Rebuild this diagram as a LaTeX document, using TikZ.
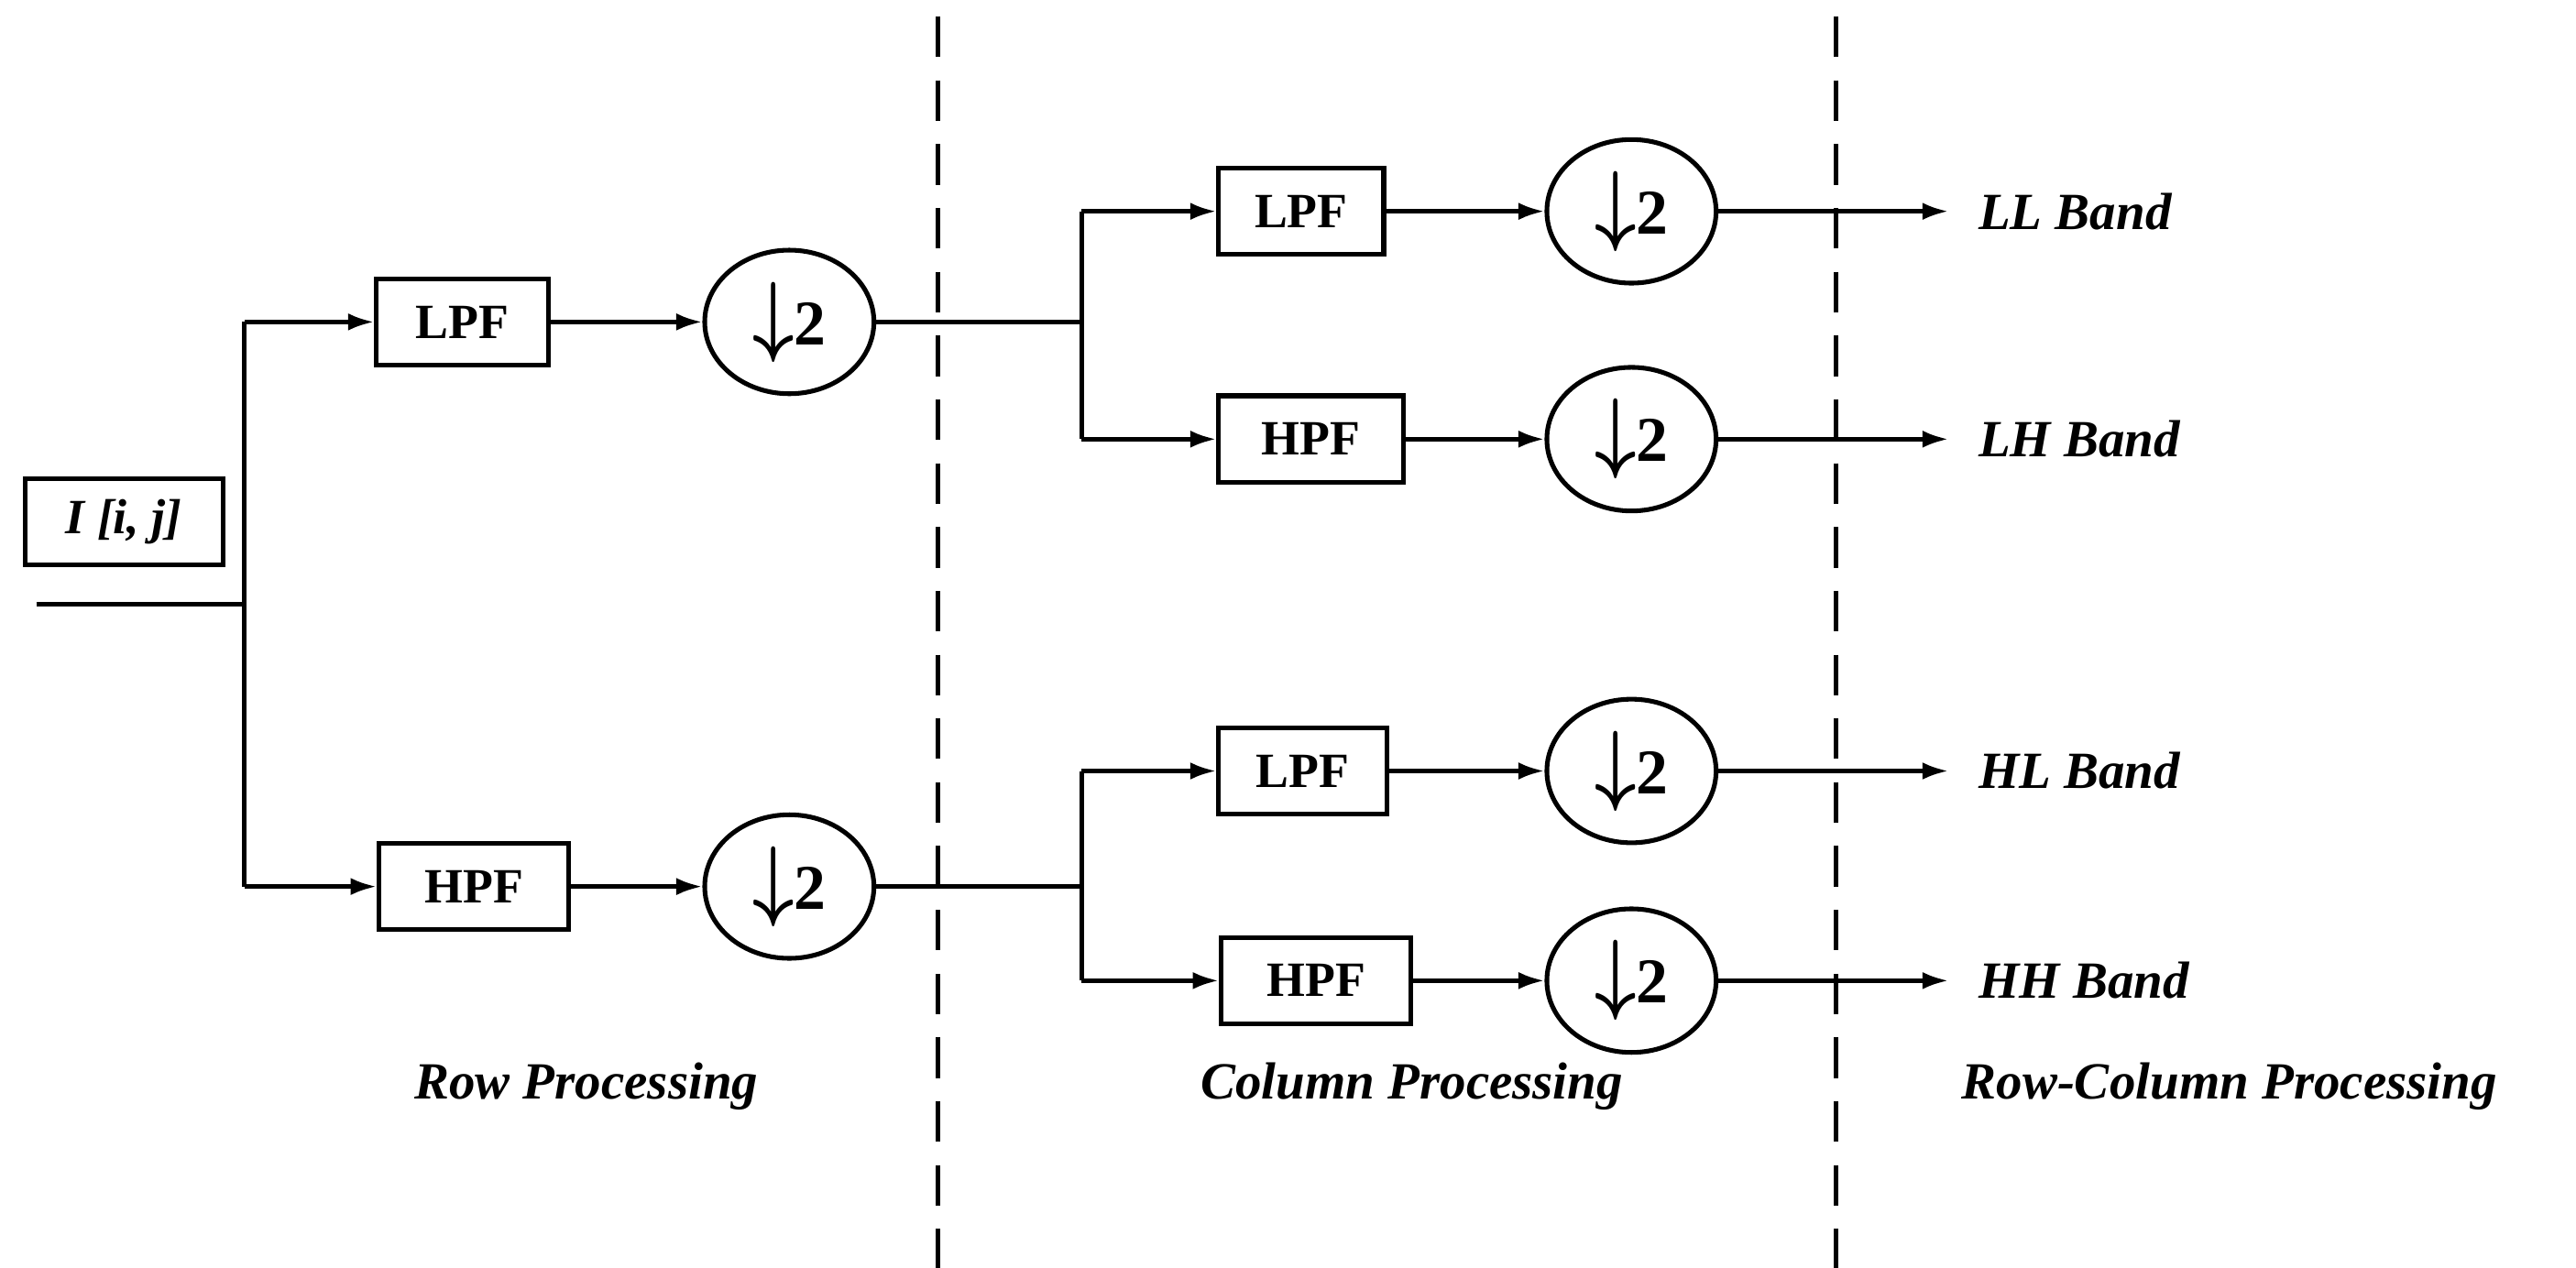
\documentclass[tikz,border=0pt]{standalone}
\usepackage{amsmath}
\usepackage{bm}
\usepackage{fontspec}
\setmainfont{Liberation Serif}
\usetikzlibrary{positioning,shapes.geometric,arrows.meta}
\begin{document}
\begin{tikzpicture}[
        x=0.02cm, y=-0.02cm,
        box/.style={draw=black, line width=1.6pt, inner sep=0pt, minimum height=1.05cm, font=\fontsize{17}{20}\selectfont\bfseries},
        down/.style={ellipse, draw=black, line width=1.6pt, minimum width=2.05cm, minimum height=1.74cm, inner sep=0pt, font=\fontsize{22}{24}\selectfont\bfseries},
        band/.style={anchor=west, font=\fontsize{18}{20}\selectfont\bfseries\itshape},
        wire/.style={line width=1.5pt},
        flow/.style={line width=1.5pt, -{Latex[length=9pt,width=6pt]}},
        >=latex
    ]
        \useasboundingbox (0,0) rectangle (1560,768);

        % dashed separators
        \draw[line width=1.5pt, dash pattern=on 14pt off 8pt] (568,10) -- (568,768);
        \draw[line width=1.5pt, dash pattern=on 14pt off 8pt] (1112,10) -- (1112,768);

        % input
        \node[box, minimum width=2.4cm] (img) at (75,316) {\textit{I [i, j]}};
        \coordinate (in) at (22,366);
        \coordinate (split) at (148,366);
        \coordinate (splitT) at (148,195);
        \coordinate (splitB) at (148,537);
        \draw[wire] (in) -- (split);
        \draw[wire] (splitT) -- (splitB);

        % row processing
        \node[box, minimum width=2.08cm] (rowL) at (280,195) {LPF};
        \node[box, minimum width=2.3cm] (rowH) at (287,537) {HPF};
        \node[down] (rowLd) at (478,195) {\scalebox{1.2}[1.5]{$\bm{\downarrow}$}2};
        \node[down] (rowHd) at (478,537) {\scalebox{1.2}[1.5]{$\bm{\downarrow}$}2};
        \draw[flow] (splitT) -- (rowL);
        \draw[flow] (splitB) -- (rowH);
        \draw[flow] (rowL) -- (rowLd);
        \draw[flow] (rowH) -- (rowHd);

        % column processing
        \coordinate (jT) at (655,195);
        \coordinate (jTa) at (655,128);
        \coordinate (jTb) at (655,266);
        \coordinate (jB) at (655,537);
        \coordinate (jBa) at (655,467);
        \coordinate (jBb) at (655,594);
        \draw[wire] (rowLd) -- (jT);
        \draw[wire] (rowHd) -- (jB);
        \draw[wire] (jTa) -- (jTb);
        \draw[wire] (jBa) -- (jBb);

        \node[box, minimum width=2cm] (LL) at (788,128) {LPF};
        \node[box, minimum width=2.24cm] (LH) at (794,266) {HPF};
        \node[box, minimum width=2.04cm] (HL) at (789,467) {LPF};
        \node[box, minimum width=2.3cm] (HH) at (797,594) {HPF};
        \draw[flow] (jTa) -- (LL);
        \draw[flow] (jTb) -- (LH);
        \draw[flow] (jBa) -- (HL);
        \draw[flow] (jBb) -- (HH);

        % downsamplers and outputs
        \foreach \f/\y/\lab in {LL/128/LL Band, LH/266/LH Band, HL/467/HL Band, HH/594/HH Band} {
            \node[down] (\f-d) at (988,\y) {\scalebox{1.2}[1.5]{$\bm{\downarrow}$}2};
            \coordinate (\f-o) at (1180,\y);
            \node[band] (\f-t) at (1192,\y) {\lab};
            \draw[flow] (\f) -- (\f-d);
            \draw[flow] (\f-d) -- (\f-o);
        }

        % stage labels
        \node[font=\fontsize{18}{20}\selectfont\bfseries\itshape] (rowP) at (355,658) {Row Processing};
        \node[font=\fontsize{18}{20}\selectfont\bfseries\itshape] (colP) at (855,658) {Column Processing};
        \node[font=\fontsize{18}{20}\selectfont\bfseries\itshape] (rcP) at (1350,658) {Row-Column Processing};
\end{tikzpicture}
\end{document}
